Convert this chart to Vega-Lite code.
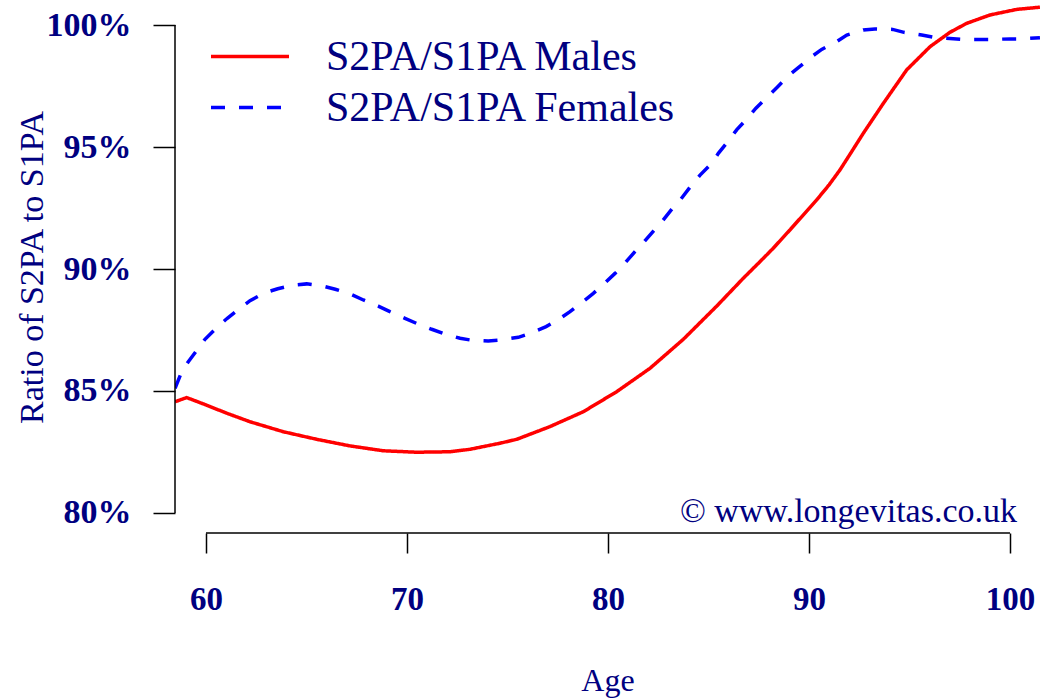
{
  "$schema": "https://vega.github.io/schema/vega-lite/v6.json",
  "width": 865,
  "height": 533,
  "autosize": {"type": "none"},
  "padding": {"left": 175, "top": 0, "right": 0, "bottom": 167},
  "background": "white",
  "config": {"view": {"stroke": null}, "font": "Liberation Serif"},
  "datasets": {
    "curves": [
      {"age": 58.46, "ratio": 84.56, "series": "S2PA/S1PA Males"},
      {"age": 59.04, "ratio": 84.73, "series": "S2PA/S1PA Males"},
      {"age": 59.87, "ratio": 84.47, "series": "S2PA/S1PA Males"},
      {"age": 61.03, "ratio": 84.09, "series": "S2PA/S1PA Males"},
      {"age": 62.19, "ratio": 83.74, "series": "S2PA/S1PA Males"},
      {"age": 63.85, "ratio": 83.33, "series": "S2PA/S1PA Males"},
      {"age": 65.51, "ratio": 83.02, "series": "S2PA/S1PA Males"},
      {"age": 67.16, "ratio": 82.75, "series": "S2PA/S1PA Males"},
      {"age": 68.82, "ratio": 82.55, "series": "S2PA/S1PA Males"},
      {"age": 70.48, "ratio": 82.49, "series": "S2PA/S1PA Males"},
      {"age": 72.14, "ratio": 82.51, "series": "S2PA/S1PA Males"},
      {"age": 73.13, "ratio": 82.61, "series": "S2PA/S1PA Males"},
      {"age": 74.63, "ratio": 82.86, "series": "S2PA/S1PA Males"},
      {"age": 75.46, "ratio": 83.02, "series": "S2PA/S1PA Males"},
      {"age": 77.11, "ratio": 83.54, "series": "S2PA/S1PA Males"},
      {"age": 78.77, "ratio": 84.15, "series": "S2PA/S1PA Males"},
      {"age": 80.43, "ratio": 84.97, "series": "S2PA/S1PA Males"},
      {"age": 82.09, "ratio": 85.93, "series": "S2PA/S1PA Males"},
      {"age": 83.75, "ratio": 87.12, "series": "S2PA/S1PA Males"},
      {"age": 85.41, "ratio": 88.48, "series": "S2PA/S1PA Males"},
      {"age": 86.73, "ratio": 89.62, "series": "S2PA/S1PA Males"},
      {"age": 87.5, "ratio": 90.25, "series": "S2PA/S1PA Males"},
      {"age": 88.22, "ratio": 90.85, "series": "S2PA/S1PA Males"},
      {"age": 89.05, "ratio": 91.6, "series": "S2PA/S1PA Males"},
      {"age": 90.38, "ratio": 92.83, "series": "S2PA/S1PA Males"},
      {"age": 91.0, "ratio": 93.45, "series": "S2PA/S1PA Males"},
      {"age": 91.54, "ratio": 94.06, "series": "S2PA/S1PA Males"},
      {"age": 92.1, "ratio": 94.78, "series": "S2PA/S1PA Males"},
      {"age": 92.7, "ratio": 95.56, "series": "S2PA/S1PA Males"},
      {"age": 93.7, "ratio": 96.79, "series": "S2PA/S1PA Males"},
      {"age": 94.86, "ratio": 98.16, "series": "S2PA/S1PA Males"},
      {"age": 96.02, "ratio": 99.11, "series": "S2PA/S1PA Males"},
      {"age": 97.01, "ratio": 99.7, "series": "S2PA/S1PA Males"},
      {"age": 97.85, "ratio": 100.07, "series": "S2PA/S1PA Males"},
      {"age": 99.0, "ratio": 100.41, "series": "S2PA/S1PA Males"},
      {"age": 100.33, "ratio": 100.64, "series": "S2PA/S1PA Males"},
      {"age": 101.49, "ratio": 100.73, "series": "S2PA/S1PA Males"},
      {"age": 58.46, "ratio": 85.11, "series": "S2PA/S1PA Females"},
      {"age": 58.79, "ratio": 85.79, "series": "S2PA/S1PA Females"},
      {"age": 59.12, "ratio": 86.2, "series": "S2PA/S1PA Females"},
      {"age": 59.62, "ratio": 86.75, "series": "S2PA/S1PA Females"},
      {"age": 59.95, "ratio": 87.12, "series": "S2PA/S1PA Females"},
      {"age": 60.61, "ratio": 87.66, "series": "S2PA/S1PA Females"},
      {"age": 61.06, "ratio": 87.98, "series": "S2PA/S1PA Females"},
      {"age": 61.69, "ratio": 88.39, "series": "S2PA/S1PA Females"},
      {"age": 62.19, "ratio": 88.7, "series": "S2PA/S1PA Females"},
      {"age": 62.94, "ratio": 89.03, "series": "S2PA/S1PA Females"},
      {"age": 63.57, "ratio": 89.19, "series": "S2PA/S1PA Females"},
      {"age": 64.34, "ratio": 89.34, "series": "S2PA/S1PA Females"},
      {"age": 65.01, "ratio": 89.39, "series": "S2PA/S1PA Females"},
      {"age": 65.81, "ratio": 89.3, "series": "S2PA/S1PA Females"},
      {"age": 66.43, "ratio": 89.17, "series": "S2PA/S1PA Females"},
      {"age": 67.16, "ratio": 88.98, "series": "S2PA/S1PA Females"},
      {"age": 67.83, "ratio": 88.73, "series": "S2PA/S1PA Females"},
      {"age": 68.57, "ratio": 88.48, "series": "S2PA/S1PA Females"},
      {"age": 69.15, "ratio": 88.25, "series": "S2PA/S1PA Females"},
      {"age": 69.9, "ratio": 87.98, "series": "S2PA/S1PA Females"},
      {"age": 70.48, "ratio": 87.77, "series": "S2PA/S1PA Females"},
      {"age": 71.23, "ratio": 87.53, "series": "S2PA/S1PA Females"},
      {"age": 71.81, "ratio": 87.36, "series": "S2PA/S1PA Females"},
      {"age": 72.64, "ratio": 87.16, "series": "S2PA/S1PA Females"},
      {"age": 73.22, "ratio": 87.08, "series": "S2PA/S1PA Females"},
      {"age": 74.04, "ratio": 87.05, "series": "S2PA/S1PA Females"},
      {"age": 74.63, "ratio": 87.09, "series": "S2PA/S1PA Females"},
      {"age": 75.54, "ratio": 87.2, "series": "S2PA/S1PA Females"},
      {"age": 76.12, "ratio": 87.36, "series": "S2PA/S1PA Females"},
      {"age": 76.92, "ratio": 87.64, "series": "S2PA/S1PA Females"},
      {"age": 77.45, "ratio": 87.88, "series": "S2PA/S1PA Females"},
      {"age": 78.11, "ratio": 88.25, "series": "S2PA/S1PA Females"},
      {"age": 78.61, "ratio": 88.57, "series": "S2PA/S1PA Females"},
      {"age": 79.27, "ratio": 89.0, "series": "S2PA/S1PA Females"},
      {"age": 79.77, "ratio": 89.37, "series": "S2PA/S1PA Females"},
      {"age": 80.35, "ratio": 89.82, "series": "S2PA/S1PA Females"},
      {"age": 80.8, "ratio": 90.2, "series": "S2PA/S1PA Females"},
      {"age": 81.34, "ratio": 90.71, "series": "S2PA/S1PA Females"},
      {"age": 81.76, "ratio": 91.08, "series": "S2PA/S1PA Females"},
      {"age": 82.34, "ratio": 91.63, "series": "S2PA/S1PA Females"},
      {"age": 82.72, "ratio": 91.98, "series": "S2PA/S1PA Females"},
      {"age": 83.25, "ratio": 92.53, "series": "S2PA/S1PA Females"},
      {"age": 83.63, "ratio": 92.87, "series": "S2PA/S1PA Females"},
      {"age": 84.16, "ratio": 93.44, "series": "S2PA/S1PA Females"},
      {"age": 84.58, "ratio": 93.85, "series": "S2PA/S1PA Females"},
      {"age": 85.16, "ratio": 94.33, "series": "S2PA/S1PA Females"},
      {"age": 85.49, "ratio": 94.74, "series": "S2PA/S1PA Females"},
      {"age": 86.03, "ratio": 95.29, "series": "S2PA/S1PA Females"},
      {"age": 86.4, "ratio": 95.7, "series": "S2PA/S1PA Females"},
      {"age": 86.98, "ratio": 96.22, "series": "S2PA/S1PA Females"},
      {"age": 87.36, "ratio": 96.59, "series": "S2PA/S1PA Females"},
      {"age": 87.98, "ratio": 97.09, "series": "S2PA/S1PA Females"},
      {"age": 88.42, "ratio": 97.45, "series": "S2PA/S1PA Females"},
      {"age": 89.02, "ratio": 97.95, "series": "S2PA/S1PA Females"},
      {"age": 89.47, "ratio": 98.25, "series": "S2PA/S1PA Females"},
      {"age": 90.13, "ratio": 98.7, "series": "S2PA/S1PA Females"},
      {"age": 90.63, "ratio": 99.0, "series": "S2PA/S1PA Females"},
      {"age": 91.38, "ratio": 99.32, "series": "S2PA/S1PA Females"},
      {"age": 91.88, "ratio": 99.59, "series": "S2PA/S1PA Females"},
      {"age": 92.7, "ratio": 99.8, "series": "S2PA/S1PA Females"},
      {"age": 93.28, "ratio": 99.84, "series": "S2PA/S1PA Females"},
      {"age": 94.16, "ratio": 99.82, "series": "S2PA/S1PA Females"},
      {"age": 94.73, "ratio": 99.7, "series": "S2PA/S1PA Females"},
      {"age": 95.61, "ratio": 99.59, "series": "S2PA/S1PA Females"},
      {"age": 96.18, "ratio": 99.5, "series": "S2PA/S1PA Females"},
      {"age": 97.01, "ratio": 99.45, "series": "S2PA/S1PA Females"},
      {"age": 97.68, "ratio": 99.41, "series": "S2PA/S1PA Females"},
      {"age": 98.51, "ratio": 99.41, "series": "S2PA/S1PA Females"},
      {"age": 99.09, "ratio": 99.41, "series": "S2PA/S1PA Females"},
      {"age": 100.0, "ratio": 99.43, "series": "S2PA/S1PA Females"},
      {"age": 100.58, "ratio": 99.43, "series": "S2PA/S1PA Females"},
      {"age": 101.49, "ratio": 99.48, "series": "S2PA/S1PA Females"}
    ]
  },
  "layer": [
    {
      "data": {"name": "curves"},
      "mark": {"type": "line", "strokeWidth": 3.5, "clip": true, "strokeCap": "butt"},
      "encoding": {
        "x": {
          "field": "age", "type": "quantitative",
          "scale": {"domain": [58.458, 101.493], "nice": false, "zero": false},
          "axis": {
            "title": "Age", "values": [60, 70, 80, 90, 100], "domain": false, "grid": false,
            "tickSize": 20, "tickColor": "black", "tickWidth": 1.5,
            "labelFont": "Liberation Serif", "labelFontWeight": "bold", "labelFontSize": 33,
            "labelColor": "#000080", "labelBaseline": "alphabetic", "labelPadding": 56,
            "labelFlush": false, "labelOverlap": false,
            "titleFont": "Liberation Serif", "titleFontWeight": "normal", "titleFontSize": 32,
            "titleColor": "#000080", "titleBaseline": "alphabetic", "titleY": 157
          }
        },
        "y": {
          "field": "ratio", "type": "quantitative",
          "scale": {"domain": [79.18, 101.025], "nice": false, "zero": false},
          "axis": {
            "title": "Ratio of S2PA to S1PA", "values": [80, 85, 90, 95, 100], "domain": false, "grid": false,
            "tickSize": 22, "tickColor": "black", "tickWidth": 1.5,
            "labelExpr": "datum.value + '%'",
            "labelFont": "Liberation Serif", "labelFontWeight": "bold", "labelFontSize": 34,
            "labelColor": "#000080", "labelBaseline": "middle", "labelPadding": 22,
            "labelFlush": false, "labelOverlap": false,
            "titleFont": "Liberation Serif", "titleFontWeight": "normal", "titleFontSize": 34,
            "titleColor": "#000080", "titleBaseline": "alphabetic", "titleAngle": -90,
            "titleX": -133, "titleY": 267, "titleAlign": "center"
          }
        },
        "color": {
          "field": "series", "type": "nominal",
          "scale": {"domain": ["S2PA/S1PA Males", "S2PA/S1PA Females"], "range": ["#FF0000", "#0000FF"]},
          "legend": {
            "orient": "none", "legendX": 34, "legendY": 31, "title": null,
            "symbolType": "stroke", "symbolSize": 6084, "symbolStrokeWidth": 3.5,
            "labelFont": "Liberation Serif", "labelFontSize": 42, "labelColor": "#000080",
            "labelOffset": 35, "labelLimit": 1000, "clipHeight": 51, "rowPadding": 0, "padding": 0
          }
        },
        "strokeDash": {
          "field": "series", "type": "nominal",
          "scale": {"domain": ["S2PA/S1PA Males", "S2PA/S1PA Females"], "range": [[1, 0], [14, 14]]},
          "legend": {
            "orient": "none", "legendX": 34, "legendY": 31, "title": null,
            "symbolType": "stroke", "symbolSize": 6084, "symbolStrokeWidth": 3.5,
            "labelFont": "Liberation Serif", "labelFontSize": 42, "labelColor": "#000080",
            "labelOffset": 35, "labelLimit": 1000, "clipHeight": 51, "rowPadding": 0, "padding": 0
          }
        }
      }
    },
    {
      "data": {"values": [{}]},
      "mark": {"type": "rule", "color": "black", "strokeWidth": 1.5},
      "encoding": {
        "x": {"datum": 58.458, "type": "quantitative"},
        "y": {"datum": 80, "type": "quantitative"},
        "y2": {"datum": 100}
      }
    },
    {
      "data": {"values": [{}]},
      "mark": {"type": "rule", "color": "black", "strokeWidth": 1.5},
      "encoding": {
        "x": {"datum": 60, "type": "quantitative"},
        "x2": {"datum": 100},
        "y": {"datum": 79.18, "type": "quantitative"}
      }
    },
    {
      "data": {"values": [{"label": "© www.longevitas.co.uk", "age": 100.35, "ratio": 79.63}]},
      "mark": {"type": "text", "align": "right", "baseline": "alphabetic", "font": "Liberation Serif", "fontSize": 34, "color": "#000080"},
      "encoding": {
        "x": {"field": "age", "type": "quantitative"},
        "y": {"field": "ratio", "type": "quantitative"},
        "text": {"field": "label"}
      }
    }
  ]
}
